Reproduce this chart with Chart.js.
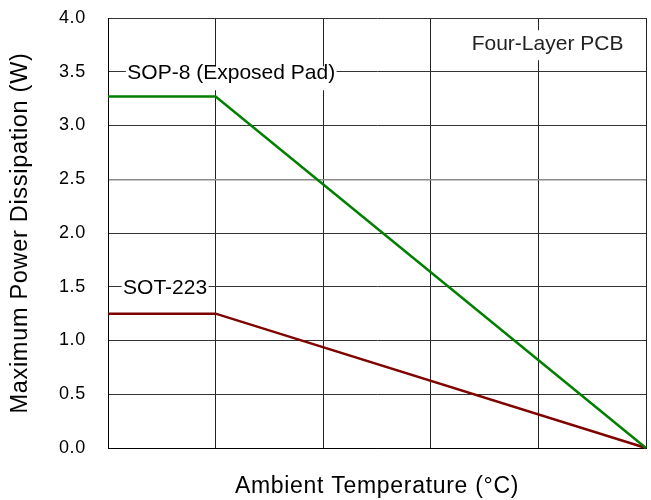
<!DOCTYPE html>
<html><head><meta charset="utf-8">
<script src="https://cdn.jsdelivr.net/npm/chart.js@4/dist/chart.umd.min.js"></script>
<style>html,body{margin:0;padding:0;background:#fff}canvas{display:block}</style>
</head><body>
<canvas id="c" width="651" height="500"></canvas>
<script>
// x positions are in grid divisions of the (unlabelled) ambient temperature axis
const ambientSteps = [0, 1, 5];
const sop8Power = [3.27, 3.27, 0];
const sot223Power = [1.25, 1.25, 0];
const seriesNames = ['SOP-8 (Exposed Pad)', 'SOT-223'];
const noteText = 'Four-Layer PCB';
const yTickValues = [0, 0.5, 1, 1.5, 2, 2.5, 3, 3.5, 4];

const FONT = '"Liberation Sans", Arial, sans-serif';
const SPACING = '0.7px';

const labels = [
  {text: seriesNames[0], x: 0.18, y: 3.5, align: 'left', color: '#000', top: 13, bottom: 11},
  {text: seriesNames[1], x: 0.14, y: 1.5, align: 'left', color: '#000', top: 13, bottom: 11},
  {text: noteText, x: 4.085, y: 3.77, align: 'center', color: '#222', top: 20, bottom: 10}
];

const annot = {
  id: 'annot',
  beforeUpdate(chart){ chart.ctx.letterSpacing = SPACING; },
  beforeDraw(chart){ chart.ctx.letterSpacing = SPACING; },
  afterDatasetsDraw(chart){
    const {ctx} = chart;
    const xs = chart.scales.x, ys = chart.scales.y;
    ctx.save();
    ctx.letterSpacing = '0px';
    ctx.font = '21px ' + FONT;
    ctx.textBaseline = 'alphabetic';
    ctx.textAlign = 'left';
    labels.forEach(l => {
      const w = ctx.measureText(l.text).width;
      const px = xs.getPixelForValue(l.x), py = ys.getPixelForValue(l.y);
      const left = l.align === 'center' ? px - w / 2 : px;
      const base = py + 7.5;
      ctx.fillStyle = '#fff';
      ctx.fillRect(left - 1.5, base - l.top, w + 3, l.top + l.bottom);
      ctx.fillStyle = l.color;
      ctx.fillText(l.text, left, base);
    });
    ctx.restore();
  }
};

const toPts = arr => ambientSteps.map((v, i) => ({x: v, y: arr[i]}));

new Chart(document.getElementById('c'), {
  type: 'line',
  data: {
    datasets: [
      {label: seriesNames[0], data: toPts(sop8Power), borderColor: '#008000', borderWidth: 2.5, pointRadius: 0, tension: 0, clip: false},
      {label: seriesNames[1], data: toPts(sot223Power), borderColor: '#800000', borderWidth: 2.5, pointRadius: 0, tension: 0, clip: false}
    ]
  },
  options: {
    responsive: false,
    animation: false,
    layout: {padding: {left: 0, right: 5, top: 18, bottom: 0}},
    plugins: {legend: {display: false}, tooltip: {enabled: false}},
    scales: {
      x: {
        type: 'linear', min: 0, max: 5,
        ticks: {display: false, stepSize: 1},
        grid: {color: '#222', lineWidth: 1, drawTicks: false},
        border: {color: '#000', width: 1},
        title: {display: true, text: 'Ambient Temperature (°C)', color: '#000', font: {family: FONT, size: 23}, padding: {top: 0, bottom: 0}},
        afterFit: s => { s.height = 52; s.paddingLeft = 0; s.paddingRight = 0; }
      },
      y: {
        type: 'linear', min: 0, max: 4,
        afterBuildTicks: s => { s.ticks = yTickValues.map(v => ({value: v})); },
        ticks: {color: '#000', font: {family: FONT, size: 18}, padding: 22, callback: v => Number(v).toFixed(1)},
        grid: {
          color: c => (c.tick && c.tick.value === 2.5) ? '#8a8a8a' : '#333',
          lineWidth: c => (c.tick && c.tick.value === 2.5) ? 1.5 : 1,
          drawTicks: false
        },
        border: {color: '#000', width: 1},
        title: {display: true, text: 'Maximum Power Dissipation (W)', color: '#000', font: {family: FONT, size: 23.5}, padding: {top: 6, bottom: 0}},
        afterFit: s => { s.width = 108; s.paddingTop = 0; s.paddingBottom = 0; }
      }
    }
  },
  plugins: [annot]
});
</script>
</body></html>
